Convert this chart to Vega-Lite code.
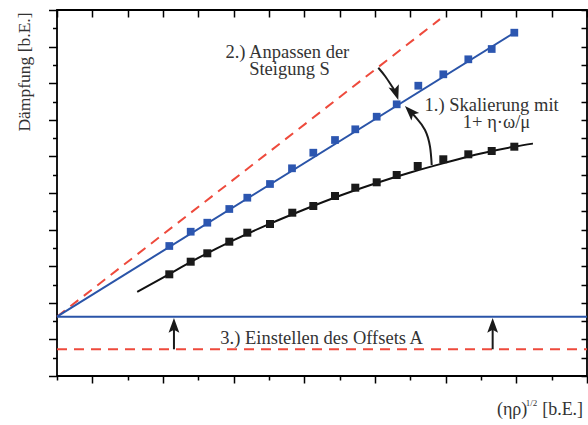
{
  "$schema": "https://vega.github.io/schema/vega-lite/v6.json",
  "width": 530,
  "height": 366,
  "autosize": {"type": "none"},
  "padding": {"left": 57, "top": 10, "right": 1, "bottom": 49},
  "background": "white",
  "config": {
    "view": {"stroke": "#000000", "strokeWidth": 1.8},
    "axis": {"labels": false, "grid": false, "domain": false, "tickColor": "#000000", "tickWidth": 1.5, "title": null}
  },
  "datasets": {
    "redLines": [
      {"line": "offset", "x": 0, "y": 1.46},
      {"line": "offset", "x": 15, "y": 1.46},
      {"line": "slope", "x": 0, "y": 3.24},
      {"line": "slope", "x": 10.84, "y": 19.5}
    ],
    "blueLines": [
      {"line": "offset", "x": 0, "y": 3.24},
      {"line": "offset", "x": 15, "y": 3.24},
      {"line": "slope", "x": 0, "y": 3.24},
      {"line": "slope", "x": 12.95, "y": 18.77}
    ],
    "fit": [
      {"x": 2.27, "y": 4.6},
      {"x": 3.0, "y": 5.38},
      {"x": 4.0, "y": 6.45},
      {"x": 5.0, "y": 7.42},
      {"x": 6.0, "y": 8.3},
      {"x": 7.0, "y": 9.1},
      {"x": 8.0, "y": 9.85},
      {"x": 9.0, "y": 10.52},
      {"x": 10.0, "y": 11.12},
      {"x": 11.0, "y": 11.66},
      {"x": 12.0, "y": 12.16},
      {"x": 13.0, "y": 12.55},
      {"x": 13.47, "y": 12.7}
    ],
    "blueSquares": [
      {"x": 3.178, "y": 7.104},
      {"x": 3.784, "y": 7.885},
      {"x": 4.254, "y": 8.377},
      {"x": 4.876, "y": 9.126},
      {"x": 5.386, "y": 9.743},
      {"x": 6.028, "y": 10.492},
      {"x": 6.651, "y": 11.35},
      {"x": 7.254, "y": 12.202},
      {"x": 7.868, "y": 12.896},
      {"x": 8.442, "y": 13.481},
      {"x": 9.048, "y": 14.169},
      {"x": 9.614, "y": 14.847},
      {"x": 10.226, "y": 15.863},
      {"x": 10.933, "y": 16.486},
      {"x": 11.641, "y": 17.306},
      {"x": 12.303, "y": 17.869},
      {"x": 12.943, "y": 18.76}
    ],
    "blackSquares": [
      {"x": 3.178, "y": 5.557},
      {"x": 3.784, "y": 6.246},
      {"x": 4.254, "y": 6.705},
      {"x": 4.876, "y": 7.339},
      {"x": 5.386, "y": 7.831},
      {"x": 6.028, "y": 8.306},
      {"x": 6.659, "y": 8.923},
      {"x": 7.254, "y": 9.29},
      {"x": 7.868, "y": 9.836},
      {"x": 8.442, "y": 10.29},
      {"x": 9.048, "y": 10.585},
      {"x": 9.614, "y": 10.984},
      {"x": 10.209, "y": 11.475},
      {"x": 10.933, "y": 11.842},
      {"x": 11.641, "y": 12.115},
      {"x": 12.303, "y": 12.295},
      {"x": 12.943, "y": 12.53}
    ],
    "shafts": [
      {"id": "a1", "k": 0, "x": 10.605, "y": 11.53},
      {"id": "a1", "k": 1, "x": 10.557, "y": 12.53},
      {"id": "a1", "k": 2, "x": 10.415, "y": 13.443},
      {"id": "a1", "k": 3, "x": 10.18, "y": 14.082},
      {"id": "a1", "k": 4, "x": 10.025, "y": 14.399},
      {"id": "a2", "k": 0, "x": 9.093, "y": 16.845},
      {"id": "a2", "k": 1, "x": 9.283, "y": 16.393},
      {"id": "a2", "k": 2, "x": 9.473, "y": 15.847},
      {"id": "a2", "k": 3, "x": 9.58, "y": 15.546},
      {"id": "a3", "k": 0, "x": 3.31, "y": 1.46},
      {"id": "a3", "k": 1, "x": 3.31, "y": 2.68},
      {"id": "a4", "k": 0, "x": 12.33, "y": 1.46},
      {"id": "a4", "k": 1, "x": 12.33, "y": 2.68}
    ],
    "heads": [
      {"x": 10.025, "y": 14.399, "angle": 316},
      {"x": 9.58, "y": 15.546, "angle": 162},
      {"x": 3.31, "y": 2.68, "angle": 0},
      {"x": 12.33, "y": 2.68, "angle": 0}
    ],
    "notes": [
      {"x": 6.52, "y": 17.38, "text": "2.) Anpassen der", "size": 18.5},
      {"x": 6.58, "y": 16.45, "text": "Steigung S", "size": 18.5},
      {"x": 12.3, "y": 14.5, "text": "1.) Skalierung mit", "size": 18.5},
      {"x": 12.44, "y": 13.55, "text": "1+ η·ω/μ", "size": 18.5},
      {"x": 7.49, "y": 1.75, "text": "3.) Einstellen des Offsets A", "size": 18.5},
      {"x": 12.88, "y": -2.13, "text": "(ηρ)", "size": 18},
      {"x": 13.43, "y": -1.64, "text": "1/2", "size": 9},
      {"x": 14.31, "y": -2.13, "text": "[b.E.]", "size": 18}
    ]
  },
  "resolve": {"axis": {"x": "independent", "y": "independent"}},
  "layer": [
    {
      "data": {"name": "redLines"},
      "mark": {"type": "line", "color": "#ee4a3c", "strokeWidth": 2, "strokeDash": [10, 7]},
      "encoding": {
        "x": {"field": "x", "type": "quantitative", "scale": {"domain": [0, 15], "nice": false, "zero": false},
              "axis": {"orient": "bottom", "values": [1, 3, 5, 7, 9, 11, 13, 15], "tickSize": 7}},
        "y": {"field": "y", "type": "quantitative", "scale": {"domain": [0, 20], "nice": false, "zero": false},
              "axis": {"orient": "left", "values": [0, 2, 4, 6, 8, 10, 12, 14, 16, 18, 20], "tickSize": 8.5,
                       "title": "Dämpfung [b.E.]", "titleFont": "Times New Roman", "titleFontSize": 17.5, "titleFontWeight": "normal",
                       "titleColor": "#333333", "titleAngle": -90, "titleX": -28, "titleY": 61.5, "titleAlign": "center", "titleBaseline": "alphabetic"}},
        "detail": {"field": "line"}
      }
    },
    {
      "data": {"name": "blueLines"},
      "mark": {"type": "line", "color": "#2a54a8", "strokeWidth": 2},
      "encoding": {
        "x": {"field": "x", "type": "quantitative", "axis": {"orient": "bottom", "values": [0, 2, 4, 6, 8, 10, 12, 14], "tickSize": 4}},
        "y": {"field": "y", "type": "quantitative", "axis": {"orient": "left", "values": [1, 3, 5, 7, 9, 11, 13, 15, 17, 19], "tickSize": 4.5}},
        "detail": {"field": "line"}
      }
    },
    {
      "data": {"name": "fit"},
      "mark": {"type": "line", "color": "#111111", "strokeWidth": 2, "interpolate": "monotone"},
      "encoding": {
        "x": {"field": "x", "type": "quantitative", "axis": {"orient": "top", "values": [0,1,2,3,4,5,6,7,8,9,10,11,12,13,14,15], "tickSize": -7}},
        "y": {"field": "y", "type": "quantitative", "axis": {"orient": "right", "values": [0,1,2,3,4,5,6,7,8,9,10,11,12,13,14,15,16,17,18,19,20], "tickSize": -6}}
      }
    },
    {
      "data": {"name": "blueSquares"},
      "mark": {"type": "point", "shape": "square", "filled": true, "color": "#2c56b0", "size": 60, "opacity": 1},
      "encoding": {
        "x": {"field": "x", "type": "quantitative", "axis": null},
        "y": {"field": "y", "type": "quantitative", "axis": null}
      }
    },
    {
      "data": {"name": "blackSquares"},
      "mark": {"type": "point", "shape": "square", "filled": true, "color": "#1a1a1a", "size": 64, "opacity": 1},
      "encoding": {
        "x": {"field": "x", "type": "quantitative", "axis": null},
        "y": {"field": "y", "type": "quantitative", "axis": null}
      }
    },
    {
      "data": {"name": "shafts"},
      "mark": {"type": "line", "color": "#1a1a1a", "strokeWidth": 2, "interpolate": "natural"},
      "encoding": {
        "x": {"field": "x", "type": "quantitative", "axis": null},
        "y": {"field": "y", "type": "quantitative", "axis": null},
        "detail": {"field": "id"},
        "order": {"field": "k"}
      }
    },
    {
      "data": {"name": "heads"},
      "mark": {"type": "point", "shape": "M0,-1L0.6,0.65L0,0.3L-0.6,0.65Z", "filled": true, "color": "#1a1a1a", "size": 324, "opacity": 1, "strokeWidth": 0},
      "encoding": {
        "x": {"field": "x", "type": "quantitative", "axis": null},
        "y": {"field": "y", "type": "quantitative", "axis": null},
        "angle": {"field": "angle", "type": "quantitative", "scale": null}
      }
    },
    {
      "data": {"name": "notes"},
      "mark": {"type": "text", "font": "Times New Roman", "color": "#333333", "baseline": "alphabetic", "align": "center"},
      "encoding": {
        "x": {"field": "x", "type": "quantitative", "axis": null},
        "y": {"field": "y", "type": "quantitative", "axis": null},
        "text": {"field": "text"},
        "size": {"field": "size", "type": "quantitative", "scale": null}
      }
    }
  ]
}
